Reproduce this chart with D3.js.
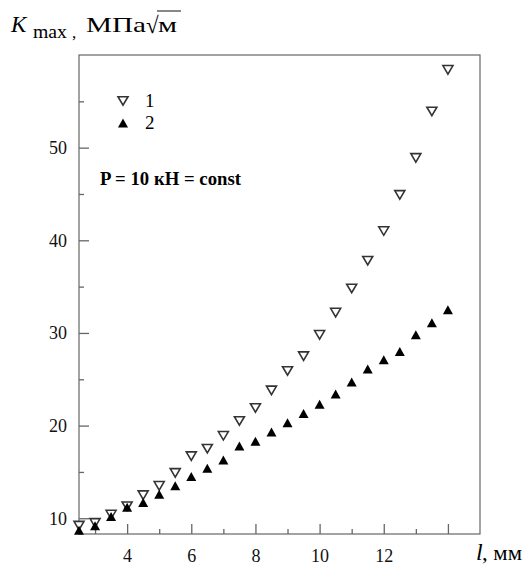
<!DOCTYPE html>
<html>
<head>
<meta charset="utf-8">
<script src="https://cdn.jsdelivr.net/npm/d3@7"></script>
<style>
body{margin:0;background:#fff;}
</style>
</head>
<body>
<svg id="chart" width="525" height="565"></svg>
<script>
// длина трещины, мм
var L_VALUES=[2.5,3,3.5,4,4.5,5,5.5,6,6.5,7,7.5,8,8.5,9,9.5,10,10.5,11,11.5,12,12.5,13,13.5,14];
// серия 1 (пустые треугольники)
var SERIES_1=[9.2,9.5,10.4,11.3,12.5,13.5,14.9,16.7,17.5,18.9,20.5,21.9,23.8,25.9,27.5,29.8,32.2,34.8,37.8,41.0,44.9,48.9,53.9,58.4];
// серия 2 (чёрные треугольники)
var SERIES_2=[8.7,9.2,10.2,11.2,11.7,12.6,13.5,14.5,15.4,16.3,17.8,18.3,19.3,20.3,21.3,22.3,23.4,24.7,26.1,27.1,28.0,29.8,31.1,32.5];
var X_MAJOR=[4,6,8,10,12,14];
var X_MINOR=[3,5,7,9,11,13];
var Y_MAJOR=[10,20,30,40,50];
var Y_MINOR=[15,25,35,45,55];
var LEGEND=["1","2"];

var FONT="'Liberation Serif','Times New Roman',serif";
var svg=d3.select("#chart");
var LEFT=79,RIGHT=480,TOP=55,BOTTOM=534;
var x=d3.scaleLinear().domain([2.5,15]).range([LEFT,RIGHT]);
var y=d3.scaleLinear().domain([8.3,60]).range([BOTTOM,TOP]);
var AXISCOLOR="#666";

// треугольник: dir=1 вверх, -1 вниз
function tri(w,h,dir){
	var a=-dir*h/2,b=dir*h/2;
	return "M"+(-w/2)+","+b+"L"+(w/2)+","+b+"L0,"+a+"Z";
}

// рамка
svg.append("rect")
	.attr("x",LEFT).attr("y",TOP)
	.attr("width",RIGHT-LEFT).attr("height",BOTTOM-TOP)
	.attr("fill","none").attr("stroke",AXISCOLOR).attr("stroke-width",1.2);

function styleAxis(g){
	g.attr("font-family",null).attr("font-size",null);
	g.select(".domain").remove();
	g.selectAll("line").attr("stroke",AXISCOLOR).attr("stroke-width",1.3);
	g.selectAll("text").style("font-size","18px").attr("fill","#111");
}

svg.append("g").attr("transform","translate(0,"+BOTTOM+")")
	.call(d3.axisBottom(x).tickValues(X_MAJOR).tickSize(-10).tickPadding(15).tickFormat(function(d){return d==14?"":d;}))
	.call(styleAxis);
svg.append("g").attr("transform","translate(0,"+BOTTOM+")")
	.call(d3.axisBottom(x).tickValues(X_MINOR).tickSize(-5).tickFormat(""))
	.call(styleAxis);
svg.append("g").attr("transform","translate("+LEFT+",0)")
	.call(d3.axisLeft(y).tickValues(Y_MAJOR).tickSize(-10).tickPadding(12).tickFormat(d3.format("d")))
	.call(styleAxis);
svg.append("g").attr("transform","translate("+LEFT+",0)")
	.call(d3.axisLeft(y).tickValues(Y_MINOR).tickSize(-5).tickFormat(""))
	.call(styleAxis);

// точки серии 1
svg.append("g").selectAll("path").data(L_VALUES).enter().append("path")
	.attr("d",tri(10,8.5,-1))
	.attr("transform",function(d,i){return "translate("+x(d)+","+y(SERIES_1[i])+")";})
	.attr("fill","#fff").attr("stroke","#333").attr("stroke-width",1.6);
// точки серии 2
svg.append("g").selectAll("path").data(L_VALUES).enter().append("path")
	.attr("d",tri(10,9,1))
	.attr("transform",function(d,i){return "translate("+x(d)+","+y(SERIES_2[i])+")";})
	.attr("fill","#000");

// легенда
svg.append("path").attr("d",tri(10,8.5,-1)).attr("transform","translate(123,101)")
	.attr("fill","#fff").attr("stroke","#333").attr("stroke-width",1.6);
svg.append("path").attr("d",tri(10,9,1)).attr("transform","translate(123,123)").attr("fill","#000");
svg.selectAll(".legText").data(LEGEND).enter().append("text")
	.attr("class","legText").text(function(d){return d;})
	.attr("x",145).attr("y",function(d,i){return 107+i*22;})
	.style("font-size","19px");

svg.append("text").text("P = 10 кН = const")
	.attr("x",100).attr("y",185)
	.attr("textLength",141).attr("lengthAdjust","spacingAndGlyphs")
	.style("font-size","18px").style("font-weight","bold");

// подпись оси Y
svg.append("text").text("K").attr("x",11).attr("y",32)
	.style("font-size","23px").style("font-style","italic");
svg.append("text").text("max").attr("x",33).attr("y",38)
	.attr("textLength",34).attr("lengthAdjust","spacingAndGlyphs").style("font-size","18px");
svg.append("text").text(",").attr("x",72).attr("y",38).style("font-size","17px");
svg.append("text").text("МПа").attr("x",86).attr("y",32)
	.attr("textLength",60).attr("lengthAdjust","spacingAndGlyphs").style("font-size","22px");
svg.append("text").text("√").attr("x",146).attr("y",33).style("font-size","23px");
svg.append("text").text("м").attr("x",158).attr("y",32)
	.attr("textLength",19).attr("lengthAdjust","spacingAndGlyphs").style("font-size","22px");
svg.append("line").attr("x1",157).attr("x2",181).attr("y1",11).attr("y2",11)
	.attr("stroke","#111").attr("stroke-width",1);

// подпись оси X
svg.append("text").text("l").attr("x",476).attr("y",560)
	.style("font-size","24px").style("font-style","italic");
svg.append("text").text(", мм").attr("x",482).attr("y",560)
	.attr("textLength",40).attr("lengthAdjust","spacingAndGlyphs").style("font-size","22px");

svg.selectAll("text").style("font-family",FONT);
</script>
</body>
</html>
